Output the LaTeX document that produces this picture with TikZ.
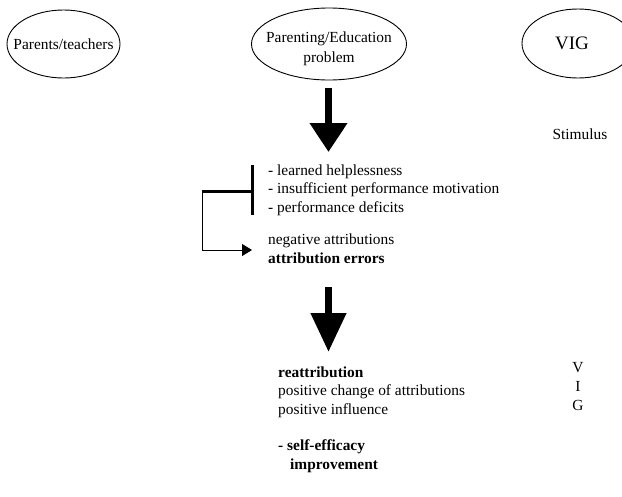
\documentclass[tikz,border=0pt]{standalone}
\usepackage{fontspec}
\setmainfont{Liberation Serif}
\usetikzlibrary{positioning,shapes.geometric,arrows.meta}

\tikzset{
  oval/.style={draw, ellipse, inner sep=0pt, line width=0.9pt},
  txt/.style={font=\fontsize{15.4}{18.5}\selectfont, inner sep=3pt},
  bigarrow/.style={line width=7.5pt},
  bar/.style={line width=3pt},
  thinarrow/.style={line width=0.9pt, -{Triangle[length=10pt,width=12pt]}}
}

\begin{document}
\begin{tikzpicture}[x=1pt, y=-1pt]
	\useasboundingbox (0,0) rectangle (622,496);
	
	% Top ovals
	\node[oval, minimum width=113pt, minimum height=68pt] (parents) at (63.5,44) {};
	\node[oval, minimum width=155pt, minimum height=72pt] (problem) at (329,44) {};
	\node[oval, minimum width=112pt, minimum height=69pt] (vig) at (578,43.5) {};
	
	% Oval texts
	\node[txt] (parentstxt) at (parents.center) {Parents/teachers};
	\node[txt, align=center, font=\fontsize{15.4}{20}\selectfont] (problemtxt) at (329,49) {Parenting/Education\\problem};
	\node[font=\fontsize{19}{22}\selectfont] (vigtxt) at (572,43) {VIG};
	
	% Right column
	\node[txt] (stimulus) at (580,134) {Stimulus};
	\node[txt, align=center, font=\fontsize{15.4}{19}\selectfont] (vigcol) at (578,387) {V\\I\\G};
	
	% Middle column
	\node[txt, align=left, anchor=west] (signs) at (265,190) {- learned helplessness\\- insufficient performance motivation\\- performance deficits};
	\node[txt, align=left, anchor=west] (attrib) at (265,248.5) {negative attributions\\\textbf{attribution errors}};
	\node[txt, align=left, anchor=west] (reattrib) at (275,392) {\textbf{reattribution}\\positive change of attributions\\positive influence};
	\node[txt, align=left, anchor=west] (efficacy) at (275,456) {\textbf{- self-efficacy}\\\hspace*{12pt}\textbf{improvement}};
	
	% Big arrows
	\coordinate (a1top) at (328.5,88);
	\coordinate (a1tip) at (328.5,152);
	\coordinate (a2top) at (328.5,287);
	\coordinate (a2tip) at (328.5,352);
	\draw[bigarrow, -{Triangle[length=29pt,width=36pt]}] (a1top) -- (a1tip);
	\draw[bigarrow, -{Triangle[length=39pt,width=34pt]}] (a2top) -- (a2tip);
	
	% Bracket and feedback arrow
	\coordinate (bartop) at (252,165);
	\coordinate (barbot) at (252,215);
	\coordinate (barmid) at (252,191);
	\coordinate (corner) at (202,191);
	\coordinate (turn) at (202,250);
	\coordinate (tip) at (252,250);
	\draw[bar] (bartop) -- (barbot);
	\draw[bar] (barmid) -- (corner);
	\draw[thinarrow] (corner) -- (turn) -- (tip);
\end{tikzpicture}
\end{document}
